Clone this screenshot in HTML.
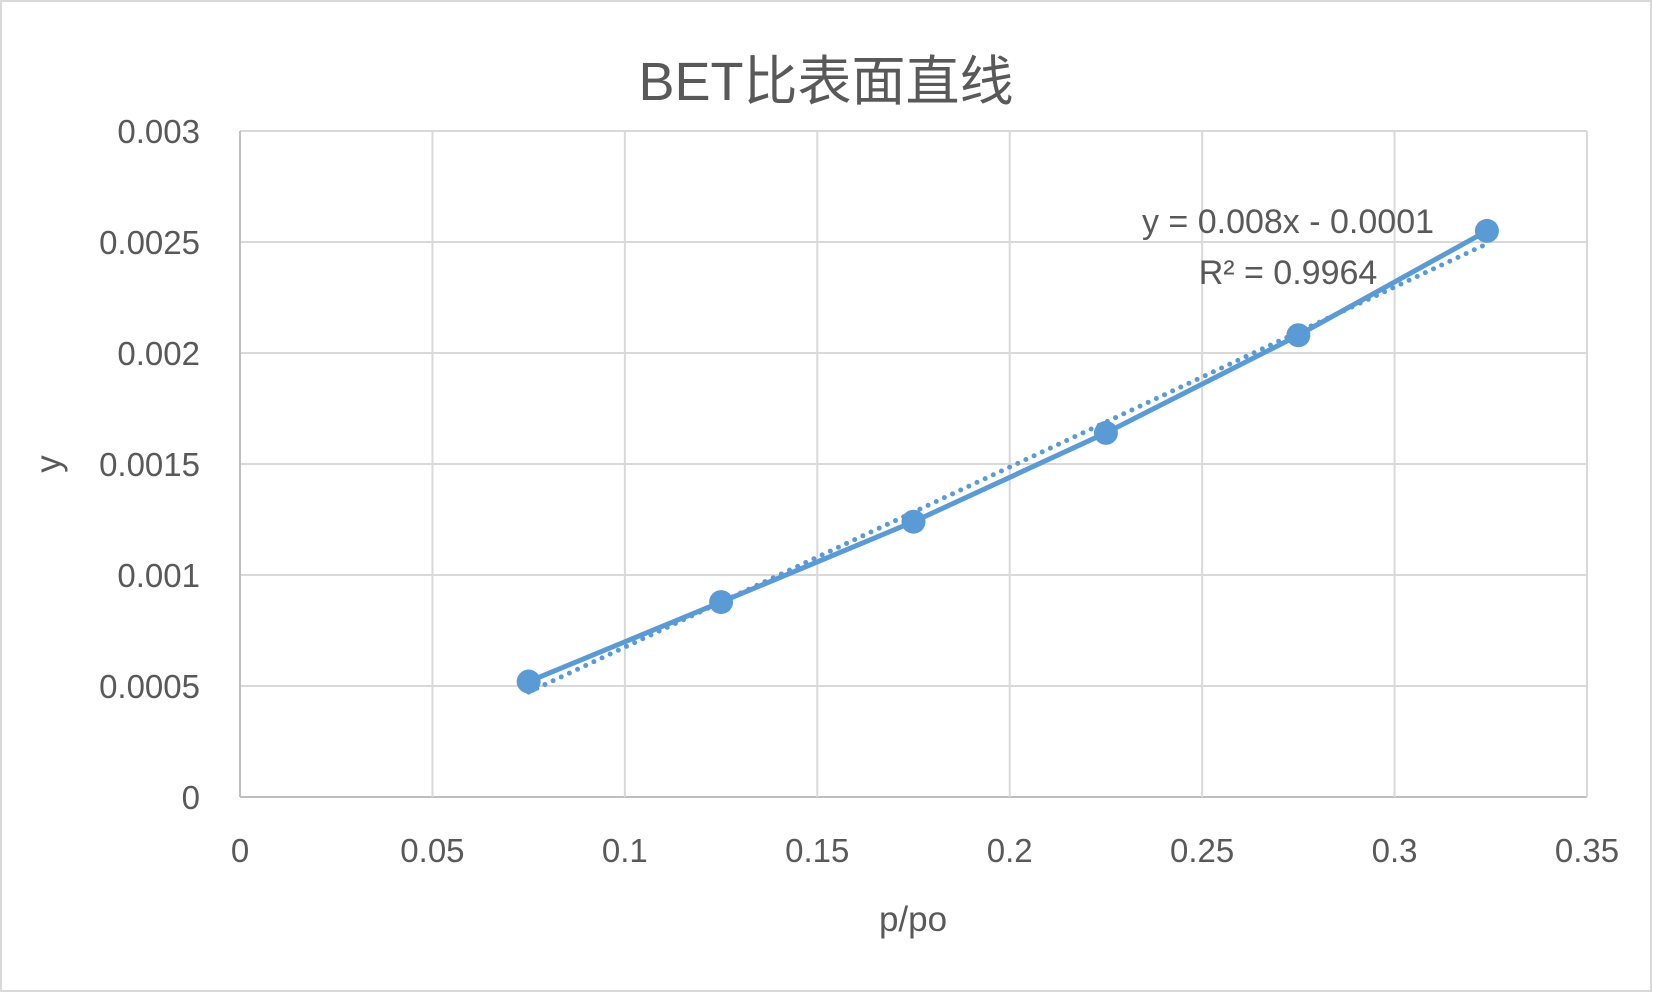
<!DOCTYPE html>
<html><head><meta charset="utf-8"><style>
html,body{margin:0;padding:0;background:#fff}
svg text{font-family:"Liberation Sans","Noto Sans CJK SC",sans-serif;fill:#595959}
</style></head><body>
<svg id="chart" width="1653" height="993" xmlns="http://www.w3.org/2000/svg">
<rect x="1" y="1" width="1650" height="990" fill="#fff" stroke="#d9d9d9" stroke-width="2"/>
<text x="826" y="100" font-size="54" text-anchor="middle">BET比表面直线</text>
<g id="grid"></g>
<g id="marks"></g>
<text x="0" y="0" font-size="35" text-anchor="middle" transform="translate(60,464) rotate(-90)">y</text>
<text x="913" y="931" font-size="35" text-anchor="middle">p/po</text>
<text x="1288" y="233" font-size="34" text-anchor="middle">y = 0.008x - 0.0001</text>
<text x="1288" y="284" font-size="34" text-anchor="middle">R² = 0.9964</text>
</svg>
<script>
const xTicks=[0,0.05,0.1,0.15,0.2,0.25,0.3,0.35];
const xTickLabels=["0","0.05","0.1","0.15","0.2","0.25","0.3","0.35"];
const yTicks=[0,0.0005,0.001,0.0015,0.002,0.0025,0.003];
const yTickLabels=["0","0.0005","0.001","0.0015","0.002","0.0025","0.003"];
const xValues=[0.075,0.125,0.175,0.225,0.275,0.324];
const yValues=[0.00052,0.000878,0.00124,0.00164,0.00208,0.00255];

const NS="http://www.w3.org/2000/svg";
const X0=240,X1=1587,Y0=797,Y1=131;
const sx=v=>X0+v/0.35*(X1-X0);
const sy=v=>Y0-v/0.003*(Y0-Y1);
function mk(tag,attrs,parent){const e=document.createElementNS(NS,tag);for(const k in attrs)e.setAttribute(k,attrs[k]);parent.appendChild(e);return e;}
const grid=document.getElementById('grid'),marks=document.getElementById('marks');
yTicks.forEach((t,i)=>{
  const l=mk('line',{x1:X0,x2:X1,y1:sy(t),y2:sy(t),stroke:i===0?'#bfbfbf':'#d9d9d9','stroke-width':2},grid);
  
  
  const tx=mk('text',{x:200,y:sy(t)+12,'font-size':33,'text-anchor':'end'},grid);
  tx.textContent=yTickLabels[i];
  
  
});
xTicks.forEach((t,i)=>{
  const l=mk('line',{x1:sx(t),x2:sx(t),y1:Y1,y2:Y0,stroke:i===0?'#bfbfbf':'#d9d9d9','stroke-width':2},grid);
  
  
  const tx=mk('text',{x:sx(t),y:862,'font-size':33,'text-anchor':'middle'},grid);
  tx.textContent=xTickLabels[i];
  
  
});
const pl=mk('polyline',{points:xValues.map((x,i)=>sx(x)+','+sy(yValues[i])).join(' '),fill:'none',stroke:'#5b9bd5','stroke-width':5,'stroke-linejoin':'round'},marks);


const n=xValues.length,mx=xValues.reduce((a,b)=>a+b)/n,my=yValues.reduce((a,b)=>a+b)/n;
let num=0,den=0;xValues.forEach((x,i)=>{num+=(x-mx)*(yValues[i]-my);den+=(x-mx)*(x-mx);});
const m=num/den,b=my-m*mx,xa=xValues[0],xb=xValues[n-1];
const tl=mk('line',{x1:sx(xa),y1:sy(m*xa+b),x2:sx(xb),y2:sy(m*xb+b),stroke:'#5b9bd5','stroke-width':5,'stroke-dasharray':'0 9','stroke-linecap':'round'},marks);


xValues.forEach((x,i)=>{
  const c=mk('circle',{cx:sx(x),cy:sy(yValues[i]),r:12,fill:'#5b9bd5'},marks);
  
  
});
</script>
</body></html>
